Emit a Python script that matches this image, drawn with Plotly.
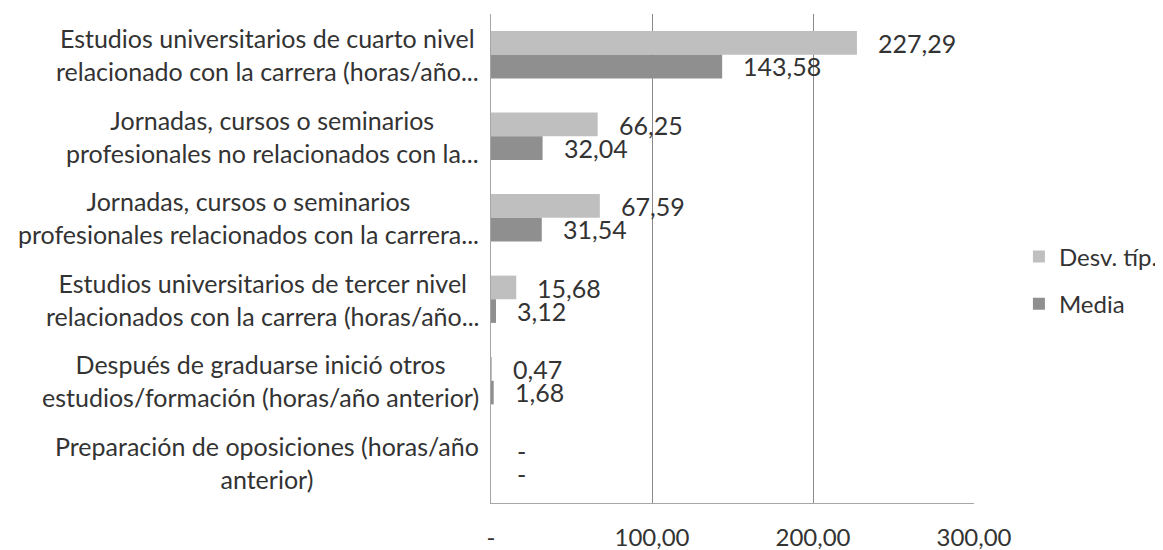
import plotly.graph_objects as go

categories = [
    "Estudios universitarios de cuarto nivel<br>relacionado con la carrera (horas/año...",
    "Jornadas, cursos o seminarios<br>profesionales no relacionados con la...",
    "Jornadas, cursos o seminarios<br>profesionales relacionados con la carrera...",
    "Estudios universitarios de tercer nivel<br>relacionados con la carrera (horas/año...",
    "Después de graduarse inició otros<br>estudios/formación (horas/año anterior)",
    "Preparación de oposiciones (horas/año<br>anterior)",
]
desv = [227.29, 66.25, 67.59, 15.68, 0.47, 0.0]
media = [143.58, 32.04, 31.54, 3.12, 1.68, 0.0]
tick_values = [0, 100, 200, 300]

def fmt(v):
    return "-" if v == 0 else f"{v:,.2f}".replace(",", " ").replace(".", ",")

FONT = "Lato"
TXT = "#333333"

fig = go.Figure()
fig.add_trace(go.Bar(name="Desv. típ.", y=categories, x=desv, orientation="h",
                     marker=dict(color="#bfbfbf", line=dict(width=0)), legendgroup="a"))
fig.add_trace(go.Bar(name="Media", y=categories, x=media, orientation="h",
                     marker=dict(color="#8f8f8f", line=dict(width=0)), legendgroup="b"))

annotations = []
for cat in categories:
    annotations.append(dict(x=-0.02, xref="paper", y=cat, yref="y", text=cat,
                            xanchor="right", yanchor="middle", align="center",
                            showarrow=False, font=dict(family=FONT, size=25, color=TXT)))
for series, shift in ((desv, 11.5), (media, -11.5)):
    for cat, v in zip(categories, series):
        annotations.append(dict(x=v, xref="x", y=cat, yref="y", text=fmt(v),
                                xanchor="left", yanchor="middle", xshift=19 if v else 24,
                                yshift=shift, showarrow=False,
                                font=dict(family=FONT, size=25, color=TXT)))

fig.update_layout(
    width=1155, height=542,
    margin=dict(l=483, r=189, t=6, b=47, autoexpand=False),
    paper_bgcolor="white", plot_bgcolor="white",
    barmode="group", bargap=0.42, bargroupgap=0,
    font=dict(family=FONT, size=24, color=TXT),
    showlegend=True,
    legend=dict(x=1.093, xanchor="left", y=0.455, yanchor="middle",
                tracegroupgap=13, font=dict(family=FONT, size=24, color=TXT),
                bgcolor="rgba(0,0,0,0)"),
    annotations=annotations,
)
fig.update_xaxes(range=[0, 300], tickvals=tick_values, ticktext=[fmt(v) for v in tick_values],
                 showgrid=True, gridcolor="#8a8a8a", gridwidth=1, automargin=False,
                 showline=True, linecolor="#a6a6a6", linewidth=1,
                 zeroline=False, ticks="", ticklabelstandoff=13,
                 tickfont=dict(family=FONT, size=24, color=TXT))
fig.update_yaxes(autorange="reversed", showticklabels=False, showgrid=False, automargin=False,
                 showline=True, linecolor="#a6a6a6", linewidth=1, ticks="", zeroline=False)

fig.write_html("out.html")
